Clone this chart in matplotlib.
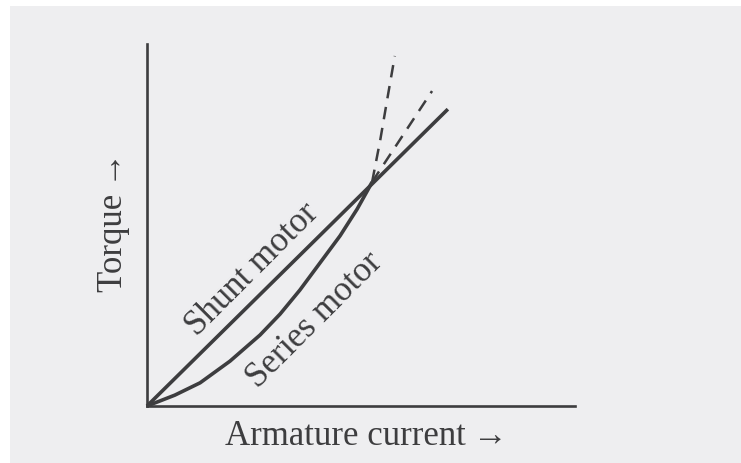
import matplotlib
matplotlib.use("Agg")
import matplotlib.pyplot as plt
from matplotlib.patches import Rectangle

# Torque vs armature current (arbitrary units)
shunt_current = [0.0, 7.03]
shunt_torque = [0.0, 8.20]

series_current = [0.0, 0.65, 1.24, 1.94, 2.64, 3.11, 3.57,
                  4.04, 4.51, 4.91, 5.16, 5.26]
series_torque = [0.0, 0.30, 0.64, 1.24, 1.96, 2.54, 3.20,
                 3.95, 4.70, 5.44, 5.97, 6.19]

# dashed continuations beyond the crossing point
series_ext_current = [5.26, 5.45, 5.62, 5.79]
series_ext_torque = [6.19, 7.35, 8.52, 9.67]
shunt_ext_current = [5.26, 6.66]
shunt_ext_torque = [6.19, 8.70]

ink = "#3d3d3f"
paper = "#eeeef0"
font = ["Liberation Serif", "DejaVu Serif"]

fig = plt.figure(figsize=(7.41, 4.64), dpi=100)
fig.patch.set_facecolor("white")
fig.patches.append(
    Rectangle((10 / 741, 0), 1, 1 - 7 / 464,
              transform=fig.transFigure, facecolor=paper,
              edgecolor="none", zorder=-10)
)

ax = fig.add_axes([147 / 741, 57 / 464, 428 / 741, 362 / 464])
ax.set_facecolor("none")
ax.set_xlim(0, 10)
ax.set_ylim(0, 10)

for side in ["top", "right"]:
    ax.spines[side].set_visible(False)
for side in ["left", "bottom"]:
    ax.spines[side].set_linewidth(1.9)
    ax.spines[side].set_color(ink)
ax.set_xticks([])
ax.set_yticks([])

ax.plot(shunt_current, shunt_torque, color=ink, lw=2.6,
        solid_capstyle="butt", clip_on=False)
ax.plot(series_current, series_torque, color=ink, lw=2.6,
        solid_capstyle="butt", solid_joinstyle="round", clip_on=False)
ax.plot(series_ext_current, series_ext_torque, color=ink, lw=1.8,
        linestyle=(0, (5, 3.5)), clip_on=False)
ax.plot(shunt_ext_current, shunt_ext_torque, color=ink, lw=1.8,
        linestyle=(0, (5, 3.5)), clip_on=False)

ax.text(2.45, 3.78, "Shunt motor", rotation=45, rotation_mode="anchor",
        ha="center", va="center", fontsize=25, color=ink, family=font)
ax.text(3.92, 2.40, "Series motor", rotation=45, rotation_mode="anchor",
        ha="center", va="center", fontsize=25, color=ink, family=font)

fig.text(366 / 741, 1 - 437 / 464, "Armature current\u2009\u2192",
         ha="center", va="center", fontsize=25, color=ink, family=font)
fig.text(113 / 741, 1 - 222 / 464, "Torque\u2009\u2192", rotation=90,
         ha="center", va="center", fontsize=25, color=ink, family=font)

fig.savefig("out.png", dpi=100, facecolor=fig.get_facecolor())
